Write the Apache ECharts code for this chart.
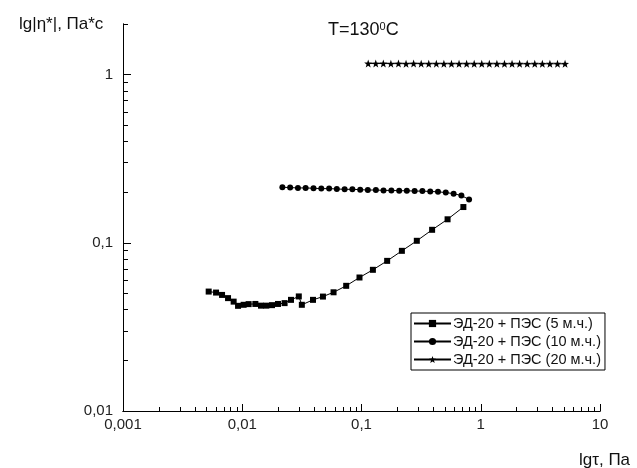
<!DOCTYPE html>
<html><head><meta charset="utf-8">
<script src="https://cdn.jsdelivr.net/npm/echarts@6/dist/echarts.min.js"></script>
<style>html,body{margin:0;padding:0;background:#fff}#c{width:637px;height:468px}</style>
</head><body><div id="c"></div>
<script>
// Series 1: ЭД-20 + ПЭС (5 м.ч.)
const s1Name = 'ЭД-20 + ПЭС (5 м.ч.)';
const s1x = [0.00523,0.00603,0.00677,0.00760,0.00847,0.00922,0.01027,0.01131,0.01288,0.01437,0.01591,0.01777,0.01995,0.02265,0.02563,
  0.0298,0.0316,0.0392,0.0475,0.0583,0.0744,0.0962,0.1246,0.1641,0.2181,0.291,0.391,0.527,0.715];
const s1y = [0.0513,0.0506,0.0490,0.0469,0.0447,0.0422,0.0428,0.0432,0.0433,0.0423,0.0423,0.0426,0.0433,0.0438,0.0458,
  0.0480,0.0428,0.0458,0.0479,0.0508,0.0555,0.0622,0.0691,0.0781,0.0896,0.1028,0.1195,0.138,0.1632];
// Series 2: ЭД-20 + ПЭС (10 м.ч.)
const s2Name = 'ЭД-20 + ПЭС (10 м.ч.)';
const s2x = [0.0217,0.0252,0.0293,0.0340,0.0396,0.0460,0.0535,0.0621,0.0722,0.0838,0.0975,0.113,0.132,0.153,0.178,0.207,0.240,0.279,0.324,0.377,0.438,0.509,0.592,0.688,0.798];
const s2y = [0.214,0.213,0.212,0.212,0.211,0.210,0.210,0.209,0.208,0.208,0.207,0.206,0.206,0.205,0.205,0.204,0.204,0.203,0.203,0.202,0.201,0.199,0.196,0.191,0.181];
// Series 3: ЭД-20 + ПЭС (20 м.ч.)
const s3Name = 'ЭД-20 + ПЭС (20 м.ч.)';
const s3x = [0.1138,0.1317,0.1524,0.1764,0.2042,0.2363,0.2735,0.3166,0.3664,0.4241,0.4909,0.5682,0.6577,0.7612,0.881,1.0198,1.180,1.366,1.581,1.830,2.118,2.452,2.838,3.285,3.802,4.401,5.093];
const s3y = [1.165,1.163,1.165,1.162,1.163,1.161,1.163,1.162,1.160,1.162,1.161,1.160,1.161,1.160,1.160,1.161,1.160,1.160,1.159,1.160,1.160,1.159,1.160,1.159,1.160,1.160,1.159];

// Axis tick values
const xMajor = [0.001,0.01,0.1,1,10];
const xMinor = [0.002,0.003,0.004,0.005,0.006,0.007,0.008,0.009,0.02,0.03,0.04,0.05,0.06,0.07,0.08,0.09,0.2,0.3,0.4,0.5,0.6,0.7,0.8,0.9,2,3,4,5,6,7,8,9];
const yMajor = [0.01,0.1,1];
const yMinor = [0.02,0.03,0.04,0.05,0.06,0.07,0.08,0.09,0.2,0.3,0.4,0.5,0.6,0.7,0.8,0.9,2];

const titleText = 'T=130{sup|0}C';
const yName = 'lg|η*|, Па*с';
const xName = 'lgτ, Па';

const fmt = v => String(+(+v).toPrecision(6)).replace('.', ',');
const pairs = (xs, ys) => xs.map((x, i) => [x, ys[i]]);
const star = 'path://M0,-10 L2.35,-3.24 L9.51,-3.09 L3.8,1.24 L5.88,8.09 L0,4 L-5.88,8.09 L-3.8,1.24 L-9.51,-3.09 L-2.35,-3.24 Z';
const font = 'Liberation Sans, Arial, sans-serif';
const black = '#000';

const chart = echarts.init(document.getElementById('c'), null, {renderer: 'canvas'});
const xBase = {type: 'log', logBase: 10, min: 0.001, max: 10, gridIndex: 0, position: 'bottom', splitLine: {show: false},
  axisLine: {lineStyle: {color: black, width: 1}}};
const yBase = {type: 'log', logBase: 10, min: 0.01, max: 2, gridIndex: 0, position: 'left', splitLine: {show: false},
  axisLine: {lineStyle: {color: black, width: 1}}};
chart.setOption({
  animation: false,
  backgroundColor: '#fff',
  textStyle: {fontFamily: font},
  title: [
    {text: titleText, left: 323, top: 16, textStyle: {fontSize: 18, fontWeight: 'normal', color: '#111', fontFamily: font,
      rich: {sup: {fontSize: 11, verticalAlign: 'top', padding: [0,0,8,0], color: '#111', fontFamily: font}}}},
    {text: yName, left: 14, top: 11, textStyle: {fontSize: 17, fontWeight: 'normal', color: '#111', fontFamily: font}},
    {text: xName, left: 574, top: 447, textStyle: {fontSize: 17, fontWeight: 'normal', color: '#111', fontFamily: font}}
  ],
  grid: {left: 123, right: 37, top: 24, bottom: 57, containLabel: false},
  legend: {
    orient: 'vertical', left: 411, top: 313,
    data: [s1Name, s2Name, s3Name],
    itemWidth: 37, itemHeight: 9, itemGap: 3,
    padding: [3, 4, 3, 2],
    borderColor: black, borderWidth: 1, borderRadius: 0, backgroundColor: '#fff',
    textStyle: {fontSize: 14.5, color: '#111', fontFamily: font, padding: [0,0,0,-3]}
  },
  xAxis: [
    Object.assign({}, xBase, {
      axisTick: {inside: true, length: 7, customValues: xMajor, lineStyle: {color: black}},
      axisLabel: {customValues: xMajor, formatter: fmt, fontSize: 15, color: '#222', margin: 6, fontFamily: font}
    }),
    Object.assign({}, xBase, {
      axisTick: {inside: true, length: 4, customValues: xMinor, lineStyle: {color: black}},
      axisLabel: {show: false}
    })
  ],
  yAxis: [
    Object.assign({}, yBase, {
      axisTick: {inside: true, length: 8, customValues: yMajor, lineStyle: {color: black}},
      axisLabel: {customValues: yMajor, formatter: fmt, fontSize: 15, color: '#222', margin: 10, fontFamily: font}
    }),
    Object.assign({}, yBase, {
      axisTick: {inside: true, length: 5, customValues: yMinor, lineStyle: {color: black}},
      axisLabel: {show: false}
    })
  ],
  series: [
    {name: s1Name, type: 'line', xAxisIndex: 0, yAxisIndex: 0, data: pairs(s1x, s1y), symbol: 'rect', symbolSize: 6,
      lineStyle: {color: black, width: 1}, itemStyle: {color: black}},
    {name: s2Name, type: 'line', xAxisIndex: 0, yAxisIndex: 0, data: pairs(s2x, s2y), symbol: 'circle', symbolSize: 6,
      lineStyle: {color: black, width: 1}, itemStyle: {color: black}},
    {name: s3Name, type: 'line', xAxisIndex: 0, yAxisIndex: 0, data: pairs(s3x, s3y), symbol: star, symbolSize: 8,
      lineStyle: {color: black, width: 1}, itemStyle: {color: black}}
  ]
});
</script>
</body></html>
